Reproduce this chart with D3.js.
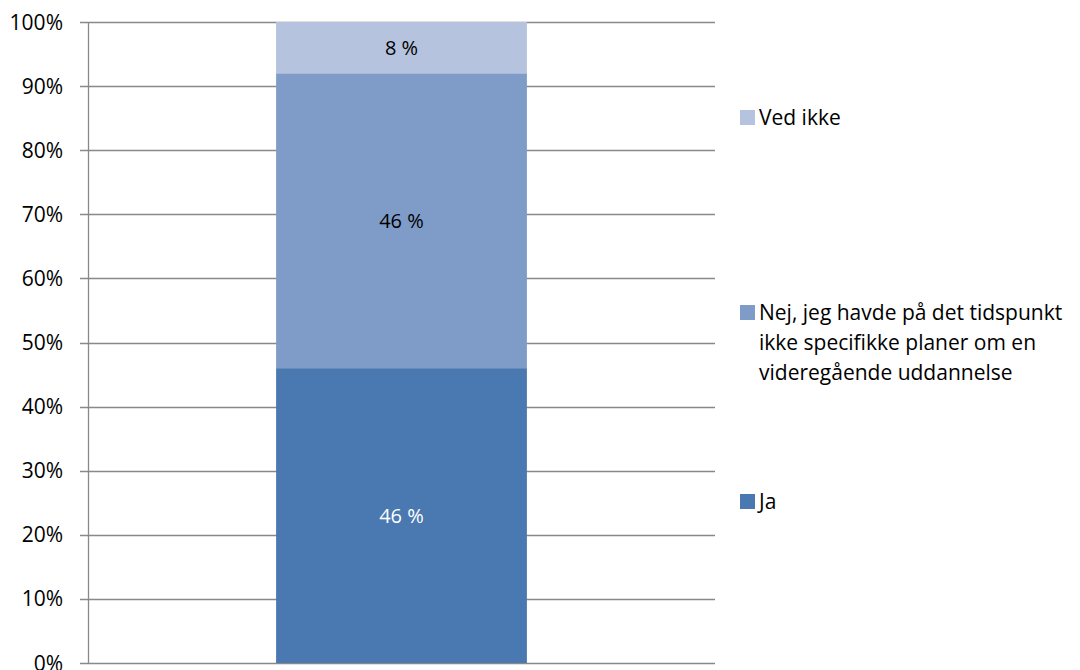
<!DOCTYPE html>
<html>
<head>
<meta charset="utf-8">
<script src="https://cdnjs.cloudflare.com/ajax/libs/d3/7.8.5/d3.min.js"></script>
<style>
  body { margin: 0; background: #fff; }
  svg text { font-family: "Open Sans", "Noto Sans", sans-serif; }
</style>
</head>
<body>
<div id="chart"></div>
<script>
// Chart data
var categories = ["Q"];
var seriesNames = ["Ja", "Nej, jeg havde på det tidspunkt ikke specifikke planer om en videregående uddannelse", "Ved ikke"];
var seriesValues = [46, 46, 8];
var seriesLabels = ["46 %", "46 %", "8 %"];
var seriesColors = ["#4a78b0", "#7f9cc8", "#b5c3de"];
var labelColors = ["#ffffff", "#000000", "#000000"];
var legendLines = [
    ["Ja"],
    ["Nej, jeg havde på det tidspunkt", "ikke specifikke planer om en", "videregående uddannelse"],
    ["Ved ikke"]
];
var tickValues = [0, 10, 20, 30, 40, 50, 60, 70, 80, 90, 100];

var width = 1080, height = 670;
var margin = {top: 22, right: 365, bottom: 7, left: 88};

var svg = d3.select("#chart").append("svg")
    .attr("width", width)
    .attr("height", height);

var y = d3.scaleLinear().domain([0, 100]).range([height - margin.bottom, margin.top]);
var x = d3.scaleBand().domain(categories)
    .range([margin.left, width - margin.right])
    .paddingInner(0).paddingOuter(0.5);

// gridlines
svg.append("g").selectAll("line")
    .data(tickValues)
    .enter().append("line")
    .attr("x1", margin.left - 8)
    .attr("x2", width - margin.right)
    .attr("y1", function(d) { return Math.round(y(d)) + 0.5; })
    .attr("y2", function(d) { return Math.round(y(d)) + 0.5; })
    .attr("stroke", "#898989")
    .attr("stroke-width", 1.3);

// tick labels
svg.append("g").selectAll("text")
    .data(tickValues)
    .enter().append("text")
    .attr("x", 63)
    .attr("y", function(d) { return y(d); })
    .attr("dy", "0.36em")
    .attr("text-anchor", "end")
    .attr("font-size", 21)
    .attr("fill", "#000")
    .text(function(d) { return d + "%"; });

// stacked bar
var stackData = [];
var acc = 0;
seriesValues.forEach(function(v, i) {
    stackData.push({i: i, y0: acc, y1: acc + v});
    acc += v;
});

var bw = (width - margin.right - margin.left) * 0.4;
var cx = x(categories[0]) + x.bandwidth() / 2;

svg.append("g").selectAll("rect")
    .data(stackData)
    .enter().append("rect")
    .attr("x", cx - bw / 2)
    .attr("width", bw)
    .attr("y", function(d) { return y(d.y1); })
    .attr("height", function(d) { return y(d.y0) - y(d.y1); })
    .attr("fill", function(d) { return seriesColors[d.i]; });

svg.append("g").selectAll("text")
    .data(stackData)
    .enter().append("text")
    .attr("x", cx)
    .attr("y", function(d) { return y((d.y0 + d.y1) / 2); })
    .attr("dy", "0.36em")
    .attr("text-anchor", "middle")
    .attr("font-size", 20)
    .attr("fill", function(d) { return labelColors[d.i]; })
    .text(function(d) { return seriesLabels[d.i]; });

// y axis line
svg.append("line")
    .attr("x1", margin.left + 0.5).attr("x2", margin.left + 0.5)
    .attr("y1", y(100)).attr("y2", y(0))
    .attr("stroke", "#898989")
    .attr("stroke-width", 1.3);

// legend
var legendY = [501, 312, 117];
var legend = svg.append("g").selectAll("g")
    .data(seriesNames)
    .enter().append("g")
    .attr("transform", function(d, i) { return "translate(740," + legendY[i] + ")"; });

legend.append("rect")
    .attr("x", 0).attr("y", -7)
    .attr("width", 15).attr("height", 15)
    .attr("fill", function(d, i) { return seriesColors[i]; });

legend.each(function(d, i) {
    var t = d3.select(this).append("text")
        .attr("x", 19)
        .attr("font-size", 21)
        .attr("fill", "#000");
    legendLines[i].forEach(function(line, j) {
        t.append("tspan")
            .attr("x", 19)
            .attr("y", j * 30)
            .attr("dy", "0.36em")
            .text(line);
    });
});
</script>
</body>
</html>
